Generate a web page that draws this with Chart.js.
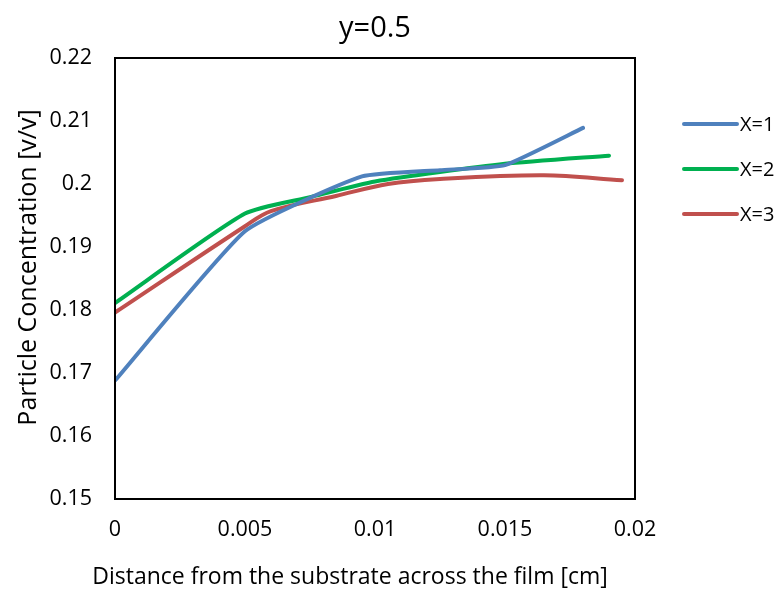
<!DOCTYPE html>
<html>
<head>
<meta charset="utf-8">
<script src="https://cdn.jsdelivr.net/npm/chart.js@4.4.1/dist/chart.umd.min.js"></script>
<style>
  html, body { margin: 0; padding: 0; background: #fff; }
  #chart { display: block; }
</style>
</head>
<body>
<canvas id="chart" width="782" height="591"></canvas>
<script>
// values
const seriesNames = ['X=1', 'X=2', 'X=3'];
const seriesColors = ['#4F81BD', '#00B050', '#C0504D'];

const x1 = [0, 0.005, 0.0095, 0.0125, 0.015, 0.018];
const y1 = [0.1688, 0.1925, 0.2012, 0.2022, 0.2030, 0.2089];

const x2 = [0, 0.005, 0.0075, 0.01, 0.015, 0.019];
const y2 = [0.1811, 0.1953, 0.1979, 0.2004, 0.2032, 0.2045];

const x3 = [0, 0.005, 0.006, 0.0085, 0.0105, 0.0125, 0.0165, 0.0195];
const y3 = [0.1796, 0.1933, 0.1957, 0.1981, 0.2000, 0.2008, 0.2014, 0.2006];

const xTickLabels = ['0', '0.005', '0.01', '0.015', '0.02'];
const yTickLabels = ['0.15', '0.16', '0.17', '0.18', '0.19', '0.2', '0.21', '0.22'];

const xTitle = 'Distance from the substrate across the film [cm]';
const yTitle = 'Particle Concentration [v/v]';

const toPoints = (xs, ys) => xs.map((x, i) => ({ x: x, y: ys[i] }));

Chart.defaults.font.family = "'Open Sans', sans-serif";
Chart.defaults.color = '#000';

// frame around the plot area
const frame = {
    id: 'frame',
    afterDatasetsDraw(chart) {
        const a = chart.chartArea;
        const ctx = chart.ctx;
        ctx.save();
        ctx.strokeStyle = '#000';
        ctx.lineWidth = 2;
        ctx.strokeRect(a.left, a.top, a.right - a.left, a.bottom - a.top);
        ctx.restore();
    }
};

// axis titles, placed a bit off-centre like in the Excel original
const axisTitles = {
    id: 'axisTitles',
    afterDraw(chart) {
        const a = chart.chartArea;
        const ctx = chart.ctx;
        ctx.save();
        ctx.fillStyle = '#000';
        ctx.textAlign = 'center';
        ctx.textBaseline = 'middle';
        ctx.font = "23px 'Open Sans', sans-serif";
        ctx.fillText(xTitle, (a.left + a.right) / 2 - 25, chart.height - 14);
        ctx.translate(29, (a.top + a.bottom) / 2 - 11);
        ctx.rotate(-Math.PI / 2);
        ctx.font = "25px 'Open Sans', sans-serif";
        ctx.fillText(yTitle, 0, 0);
        ctx.restore();
    }
};

// legend drawn to the right of the plot, like Excel does
const sideLegend = {
    id: 'sideLegend',
    afterDraw(chart) {
        const a = chart.chartArea;
        const ctx = chart.ctx;
        ctx.save();
        ctx.font = "20px 'Open Sans', sans-serif";
        ctx.textBaseline = 'middle';
        ctx.lineCap = 'round';
        chart.data.datasets.forEach((ds, i) => {
            const y = a.top + 66 + i * 45;
            const x = a.right + 49;
            ctx.strokeStyle = ds.borderColor;
            ctx.lineWidth = 4;
            ctx.beginPath();
            ctx.moveTo(x, y);
            ctx.lineTo(x + 53, y);
            ctx.stroke();
            ctx.fillStyle = '#000';
            ctx.fillText(ds.label, x + 56, y + 1);
        });
        ctx.restore();
    }
};

const tension = [0.15, 0.2, 0.35];
const allPoints = [toPoints(x1, y1), toPoints(x2, y2), toPoints(x3, y3)];

new Chart(document.getElementById('chart'), {
    type: 'line',
    data: {
        datasets: allPoints.map((pts, i) => ({
            label: seriesNames[i],
            data: pts,
            borderColor: seriesColors[i],
            backgroundColor: seriesColors[i],
            borderWidth: 4,
            borderCapStyle: 'round',
            borderJoinStyle: 'round',
            pointRadius: 0,
            tension: tension[i],
            fill: false
        }))
    },
    options: {
        responsive: false,
        animation: false,
        devicePixelRatio: 1,
        layout: { padding: { left: 0, right: 147, top: 0, bottom: 0 } },
        plugins: {
            legend: { display: false },
            tooltip: { enabled: false },
            title: {
                display: true,
                text: 'y=0.5',
                fullSize: false,
                color: '#000',
                font: { size: 29, weight: 'normal' },
                padding: { top: 11.6, bottom: 11.6 }
            }
        },
        scales: {
            x: {
                type: 'linear',
                min: 0,
                max: 0.02,
                grid: { display: false, drawTicks: false },
                border: { display: false },
                ticks: {
                    stepSize: 0.005,
                    padding: 18,
                    font: { size: 21.5 },
                    maxRotation: 0,
                    callback: (v, i) => xTickLabels[i]
                },
                afterFit: (s) => { s.height = 92; }
            },
            y: {
                min: 0.15,
                max: 0.22,
                grid: { display: false, drawTicks: false },
                border: { display: false },
                ticks: {
                    stepSize: 0.01,
                    padding: 23,
                    font: { size: 21.5 },
                    callback: (v, i) => yTickLabels[i]
                },
                afterFit: (s) => { s.width = 115; }
            }
        }
    },
    plugins: [frame, axisTitles, sideLegend]
});
</script>
</body>
</html>
